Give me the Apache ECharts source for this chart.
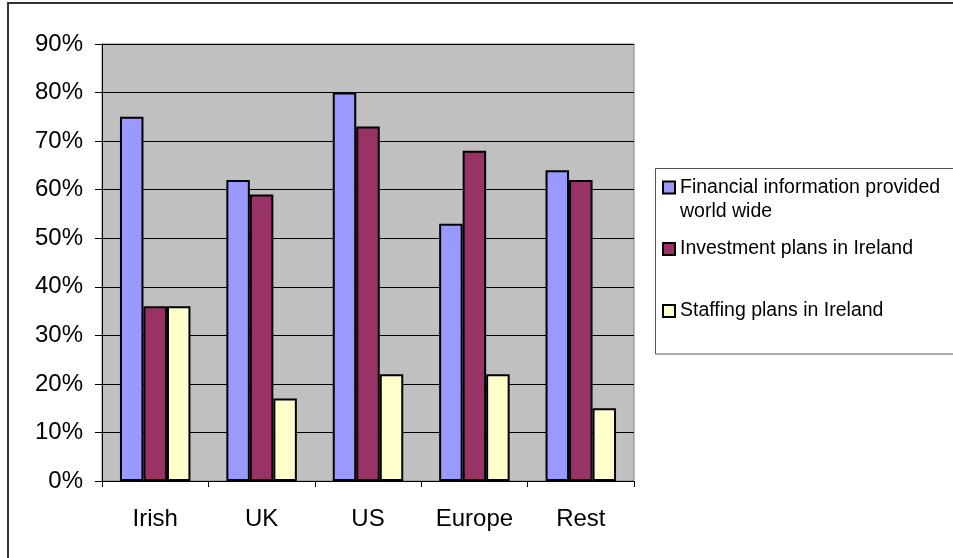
<!DOCTYPE html>
<html>
<head>
<meta charset="utf-8">
<script src="https://cdn.jsdelivr.net/npm/echarts@6/dist/echarts.min.js"></script>
<style>
  html, body { margin: 0; padding: 0; background: #ffffff; }
  #chart { width: 953px; height: 558px; }
</style>
</head>
<body>
<div id="chart"></div>
<script>
// Regions surveyed
const categories = ['Irish', 'UK', 'US', 'Europe', 'Rest'];

// Share of respondents (%)
const financialInfo = [75, 62, 80, 53, 64];
const investmentPlans = [36, 59, 73, 68, 62];
const staffingPlans = [36, 17, 22, 22, 15];

const seriesNames = [
  'Financial information provided world wide',
  'Investment plans in Ireland',
  'Staffing plans in Ireland'
];
const seriesColors = ['#9999FF', '#993366', '#FFFFCC'];

const yTicks = { min: 0, max: 90, interval: 10 };

const FONT = '"Liberation Sans", Arial, sans-serif';

const chart = echarts.init(document.getElementById('chart'), null, { renderer: 'canvas' });

function barSeries(name, data, color) {
  return {
    name: name,
    type: 'bar',
    data: data,
    barWidth: 23.5,
    barGap: '0%',
    itemStyle: { color: color, borderColor: '#000000', borderWidth: 2 },
    emphasis: { disabled: true }
  };
}

function legendItem(name, top, extra) {
  return Object.assign({
    data: [name],
    orient: 'vertical',
    left: 662,
    top: top,
    itemWidth: 12,
    itemHeight: 12,
    padding: 0,
    selectedMode: false,
    icon: 'rect',
    textStyle: { fontFamily: FONT, fontSize: 19.5, color: '#000000' }
  }, extra || {});
}

chart.setOption({
  animation: false,
  backgroundColor: '#ffffff',
  grid: {
    left: 102, right: 319, top: 44, bottom: 77,
    show: true,
    backgroundColor: '#C0C0C0',
    borderColor: '#808080',
    borderWidth: 1
  },
  graphic: [
    {
      type: 'rect',
      shape: { x: 8, y: 3, width: 960, height: 570 },
      style: { fill: 'none', stroke: '#333333', lineWidth: 2 },
      silent: true, z: -1
    },
    {
      type: 'rect',
      shape: { x: 655.5, y: 168.5, width: 320, height: 185.5 },
      style: { fill: '#ffffff', stroke: '#555555', lineWidth: 1 },
      silent: true, z: 0
    }
  ],
  legend: [
    // first entry wraps onto a second line; the leading blank line keeps
    // the swatch level with the first line of text
    legendItem(seriesNames[0], 151.5, {
      formatter: function () { return '\nFinancial information provided\nworld wide'; },
      textStyle: { fontFamily: FONT, fontSize: 19.5, color: '#000000', lineHeight: 24 }
    }),
    legendItem(seriesNames[1], 239),
    legendItem(seriesNames[2], 301)
  ],
  xAxis: {
    type: 'category',
    data: categories,
    boundaryGap: true,
    axisLine: { lineStyle: { color: '#000000', width: 1 } },
    axisTick: { show: true, length: 6, alignWithLabel: false, lineStyle: { color: '#000000' } },
    axisLabel: { fontFamily: FONT, fontSize: 24, color: '#000000', margin: 26 },
    splitLine: { show: false }
  },
  yAxis: {
    type: 'value',
    min: yTicks.min,
    max: yTicks.max,
    interval: yTicks.interval,
    axisLine: { show: true, lineStyle: { color: '#000000', width: 1 } },
    axisTick: { show: true, length: 7, lineStyle: { color: '#000000' } },
    axisLabel: {
      fontFamily: FONT, fontSize: 24, color: '#000000', margin: 19,
      formatter: function (v) { return v + '%'; }
    },
    splitLine: { show: true, lineStyle: { color: '#000000', width: 1 } }
  },
  series: [
    barSeries(seriesNames[0], financialInfo, seriesColors[0]),
    barSeries(seriesNames[1], investmentPlans, seriesColors[1]),
    barSeries(seriesNames[2], staffingPlans, seriesColors[2])
  ]
});
</script>
</body>
</html>
